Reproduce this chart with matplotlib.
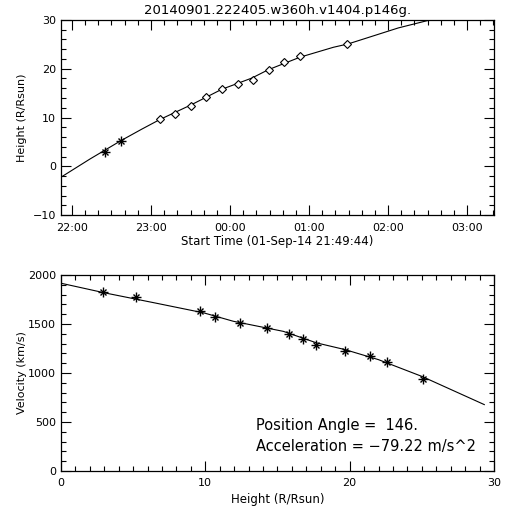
import numpy as np
import matplotlib
matplotlib.use('Agg')
import matplotlib.pyplot as plt
from matplotlib.ticker import MultipleLocator

plt.rcParams['font.family'] = 'DejaVu Sans'

# observation times, hours after 22:00 (01-Sep-14)
c2_time = [0.418, 0.616]
c2_height = [2.9, 5.2]
c3_time = [1.114, 1.304, 1.503, 1.696, 1.895, 2.097, 2.287, 2.49, 2.684, 2.886, 3.485]
c3_height = [9.6, 10.7, 12.4, 14.3, 15.8, 16.8, 17.7, 19.7, 21.4, 22.6, 25.1]

# height-time fit line
fit_time = [-0.139, 0.228, 0.616, 0.882, 1.114, 1.515, 1.895, 2.275, 2.485, 2.886, 3.308, 3.497, 4.13, 4.53]
fit_height = [-2.24, 1.49, 5.22, 7.6, 9.6, 12.65, 15.78, 18.08, 19.8, 22.37, 24.4, 25.1, 28.37, 30.0]

# velocity vs height
vel_height = [2.9, 5.2, 9.6, 10.7, 12.4, 14.3, 15.8, 16.8, 17.7, 19.7, 21.4, 22.6, 25.1]
velocity = [1827, 1776, 1636, 1569, 1508, 1459, 1398, 1349, 1288, 1225, 1169, 1112, 939]

vfit_height = [0, 3.05, 6.51, 9.91, 11.94, 15.41, 17.72, 19.68, 21.99, 25.0, 27.3, 29.33]
vfit_vel = [1915, 1816, 1714, 1612, 1527, 1424, 1306, 1238, 1136, 965, 812, 677]

time_ticks = [0, 1, 2, 3, 4, 5]
time_labels = ['22:00', '23:00', '00:00', '01:00', '02:00', '03:00']

title = '20140901.222405.w360h.v1404.p146g.'
pos_angle = 146.
accel = -79.22


def idl_axes(ax):
    ax.tick_params(which='both', direction='in', top=True, right=True,
                   labelsize=8, width=0.8)
    ax.tick_params(which='major', length=7)
    ax.tick_params(which='minor', length=3.5)
    for s in ax.spines.values():
        s.set_linewidth(0.9)


def star(ax, x, y):
    ax.plot(x, y, ls='none', marker='+', ms=6.5, mew=1.0, color='black')
    ax.plot(x, y, ls='none', marker='x', ms=5, mew=1.0, color='black')


fig = plt.figure(figsize=(5.12, 5.12), dpi=100)

# height-time
ax1 = fig.add_axes([0.1191, 0.580, 0.8457, 0.381])
ax1.plot(fit_time, fit_height, color='black', lw=0.8)
star(ax1, c2_time, c2_height)
ax1.plot(c3_time, c3_height, ls='none', marker='D', ms=4.2, mfc='white',
         mec='black', mew=0.8)
ax1.set_xlim(-0.139, 5.34)
ax1.set_ylim(-10, 30)
ax1.set_xticks(time_ticks)
ax1.set_xticklabels(time_labels)
ax1.xaxis.set_minor_locator(MultipleLocator(1 / 6))
ax1.yaxis.set_major_locator(MultipleLocator(10))
ax1.yaxis.set_minor_locator(MultipleLocator(2))
ax1.set_ylabel('Height (R/Rsun)', fontsize=8)
ax1.set_xlabel('Start Time (01-Sep-14 21:49:44)', fontsize=8.5, labelpad=1)
ax1.set_title(title, fontsize=9.5, pad=4)
idl_axes(ax1)
ax1.tick_params(axis='x', which='major', pad=6)

# velocity-height
ax2 = fig.add_axes([0.1191, 0.0801, 0.8457, 0.383])
ax2.plot(vfit_height, vfit_vel, color='black', lw=0.8)
star(ax2, vel_height, velocity)
ax2.set_xlim(0, 30)
ax2.set_ylim(0, 2000)
ax2.xaxis.set_major_locator(MultipleLocator(10))
ax2.xaxis.set_minor_locator(MultipleLocator(1))
ax2.yaxis.set_major_locator(MultipleLocator(500))
ax2.yaxis.set_minor_locator(MultipleLocator(100))
ax2.set_xlabel('Height (R/Rsun)', fontsize=8.5, labelpad=4)
ax2.set_ylabel('Velocity (km/s)', fontsize=8, labelpad=1)
ax2.text(13.5, 465, f'Position Angle =  {pos_angle:.0f}.', fontsize=10.5, va='center')
ax2.text(13.5, 251, f'Acceleration = \u221279.22 m/s^2', fontsize=10.5, va='center')
idl_axes(ax2)
ax2.tick_params(axis='x', which='major', pad=5)

fig.savefig('out.png', dpi=100)
